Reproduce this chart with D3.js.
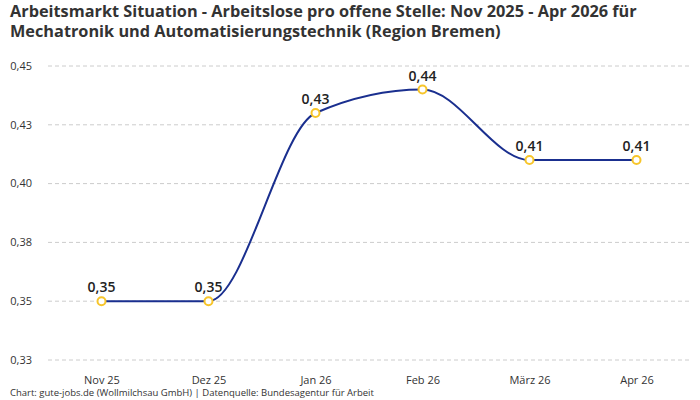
<!DOCTYPE html>
<html>
<head>
<meta charset="utf-8">
<script src="https://cdn.jsdelivr.net/npm/d3@7"></script>
<style>
  body { margin: 0; background: #fff; }
  svg { display: block; font-family: "Open Sans", Roboto, sans-serif; }
</style>
</head>
<body>
<svg id="chart" width="700" height="400"></svg>
<script>
// data
const months = ["Nov 25", "Dez 25", "Jan 26", "Feb 26", "März 26", "Apr 26"];
const ratio = [0.35, 0.35, 0.43, 0.44, 0.41, 0.41];
const yTicks = [0.325, 0.35, 0.375, 0.4, 0.425, 0.45];
const yTickLabels = ["0,33", "0,35", "0,38", "0,40", "0,43", "0,45"];

const titleLines = [
	"Arbeitsmarkt Situation - Arbeitslose pro offene Stelle: Nov 2025 - Apr 2026 für",
	"Mechatronik und Automatisierungstechnik (Region Bremen)"
];
const footer = "Chart: gute-jobs.de (Wollmilchsau GmbH) | Datenquelle: Bundesagentur für Arbeit";

const svg = d3.select("#chart");
const plotLeft = 48, plotRight = 690, plotTop = 66, plotBottom = 360;

const x = d3.scalePoint().domain(months).range([plotLeft, plotRight]).padding(0.5);
const y = d3.scaleLinear().domain([0.325, 0.45]).range([plotBottom, plotTop]);

// title
svg.append("g").selectAll("text")
	.data(titleLines)
	.join("text")
	.attr("x", 10)
	.attr("y", (d, i) => 17 + i * 20)
	.attr("font-size", 16.3)
	.attr("font-weight", 700)
	.attr("fill", "#333")
	.text(d => d);

// grid + y labels
const grid = svg.append("g");
grid.selectAll("line")
	.data(yTicks)
	.join("line")
	.attr("x1", plotLeft).attr("x2", plotRight)
	.attr("y1", d => y(d)).attr("y2", d => y(d))
	.attr("stroke", "#ccc")
	.attr("stroke-dasharray", "4,3");
grid.selectAll("text")
	.data(yTicks)
	.join("text")
	.attr("x", 32)
	.attr("y", d => y(d))
	.attr("dy", "0.35em")
	.attr("text-anchor", "end")
	.attr("font-size", 11)
	.attr("fill", "#333")
	.text((d, i) => yTickLabels[i]);

// x axis labels
const xAxis = svg.append("g")
	.attr("transform", `translate(0,${plotBottom + 16})`)
	.call(d3.axisBottom(x).tickSize(0).tickPadding(0));
xAxis.select(".domain").remove();
xAxis.selectAll("text")
	.attr("font-size", 11)
	.attr("font-family", "'Open Sans', Roboto, sans-serif")
	.attr("fill", "#333");

// line
const points = months.map((m, i) => ({ m: m, v: ratio[i] }));
const line = d3.line()
	.x(d => x(d.m))
	.y(d => y(d.v))
	.curve(d3.curveMonotoneX);

svg.append("path")
	.datum(points)
	.attr("d", line)
	.attr("fill", "none")
	.attr("stroke", "#1a2f8f")
	.attr("stroke-width", 2);

svg.append("g").selectAll("circle")
	.data(points)
	.join("circle")
	.attr("cx", d => x(d.m))
	.attr("cy", d => y(d.v))
	.attr("r", 4)
	.attr("fill", "#fff")
	.attr("stroke", "#f7c52a")
	.attr("stroke-width", 2);

svg.append("g").selectAll("text")
	.data(points)
	.join("text")
	.attr("x", d => x(d.m))
	.attr("y", d => y(d.v) - 9)
	.attr("text-anchor", "middle")
	.attr("font-size", 14)
	.attr("font-weight", 600)
	.attr("fill", "#222")
	.text(d => d.v.toFixed(2).replace(".", ","));

// footer
svg.append("text")
	.attr("x", 10)
	.attr("y", 396)
	.attr("font-size", 9.5)
	.attr("fill", "#333")
	.text(footer);
</script>
</body>
</html>
